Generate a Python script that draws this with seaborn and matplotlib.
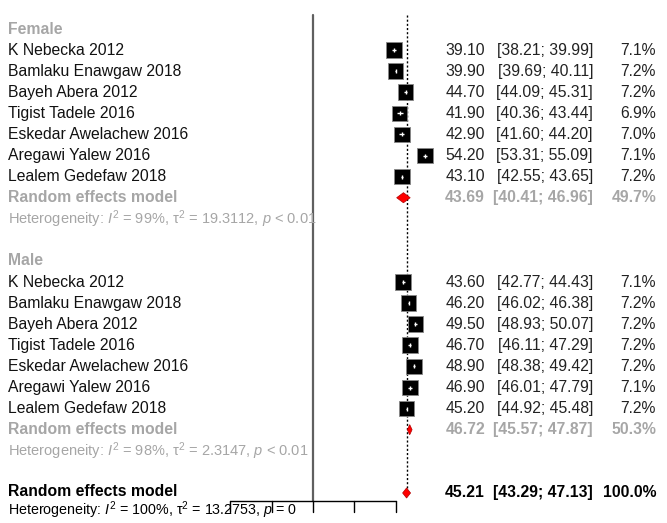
import numpy as np
import pandas as pd
import matplotlib
matplotlib.use("Agg")
import matplotlib.pyplot as plt
import matplotlib.transforms as mtransforms
import seaborn as sns

# study data
studies = ["K Nebecka 2012", "Bamlaku Enawgaw 2018", "Bayeh Abera 2012",
           "Tigist Tadele 2016", "Eskedar Awelachew 2016", "Aregawi Yalew 2016",
           "Lealem Gedefaw 2018"]
female_est = [39.10, 39.90, 44.70, 41.90, 42.90, 54.20, 43.10]
female_lo = [38.21, 39.69, 44.09, 40.36, 41.60, 53.31, 42.55]
female_hi = [39.99, 40.11, 45.31, 43.44, 44.20, 55.09, 43.65]
female_w = [7.1, 7.2, 7.2, 6.9, 7.0, 7.1, 7.2]
male_est = [43.60, 46.20, 49.50, 46.70, 48.90, 46.90, 45.20]
male_lo = [42.77, 46.02, 48.93, 46.11, 48.38, 46.01, 44.92]
male_hi = [44.43, 46.38, 50.07, 47.29, 49.42, 47.79, 45.48]
male_w = [7.1, 7.2, 7.2, 7.2, 7.2, 7.1, 7.2]

groups = ["Female", "Male"]
pooled_est = [43.69, 46.72]
pooled_lo = [40.41, 45.57]
pooled_hi = [46.96, 47.87]
pooled_w = [49.7, 50.3]
het_i2 = ["99%", "98%"]
het_tau2 = ["19.3112", "2.3147"]
het_p = ["< 0.01", "< 0.01"]

overall_est = 45.21
overall_lo = 43.29
overall_hi = 47.13
overall_w = 100.0
overall_i2 = "100%"
overall_tau2 = "13.2753"
overall_p = "= 0"

axis_ticks = [-40, -20, 0, 20, 40]

sns.set_style("white")
plt.rcParams["font.family"] = ["Liberation Sans", "DejaVu Sans"]
plt.rcParams["mathtext.fontset"] = "custom"
plt.rcParams["mathtext.rm"] = "Liberation Sans"
plt.rcParams["mathtext.it"] = "Liberation Sans:italic"

W, H = 667, 523
fig = plt.figure(figsize=(W / 100, H / 100), dpi=100)
ax = fig.add_axes([0, 0, 1, 1])

# pixel mapping: x=0 at px 313, 2.07 px per unit; row 0 at px 29, 21.09 px per row
px_per_unit = 2.07
x0_px = 313
row0_px = 29
px_per_row = 21.09
ax.set_xlim(-x0_px / px_per_unit, (W - x0_px) / px_per_unit)
ax.set_ylim((H - row0_px) / px_per_row, -row0_px / px_per_row)
ax.axis("off")

tx = mtransforms.blended_transform_factory(fig.transFigure, ax.transData)

def px(x):
    return x / W

grey = "#a6a6a6"
fs = 11.3

# build the study table with row positions
rows = []
r = 0
layout = []
for g, est, lo, hi, w in [("Female", female_est, female_lo, female_hi, female_w),
                          ("Male", male_est, male_lo, male_hi, male_w)]:
    layout.append(("header", g, r))
    r += 1
    for name, e, l, h, ww in zip(studies, est, lo, hi, w):
        rows.append(dict(group=g, study=name, est=e, lo=l, hi=h, weight=ww, row=r))
        r += 1
    layout.append(("pooled", g, r))
    r += 1
    layout.append(("het", g, r))
    r += 2
overall_row = r
df = pd.DataFrame(rows)

# reference lines
ax.plot([0, 0], [-0.66, 22.38], color="#606060", lw=1.6, zorder=1)
ax.plot([overall_est, overall_est], [-0.66, overall_row - 0.25], color="black",
        lw=1, ls=(0, (1.5, 1.5)), zorder=1)

# bottom axis
ax.plot([axis_ticks[0], axis_ticks[-1]], [22.38, 22.38], color="black", lw=1)
for t in axis_ticks:
    ax.plot([t, t], [22.38, 22.9], color="black", lw=1)

# study squares
sns.scatterplot(data=df, x="est", y="row", marker="s", size="weight",
                sizes=(0, 128), size_norm=(0, 7.2), color="black",
                edgecolor="#888888", linewidth=0.6, legend=False, ax=ax, zorder=3)
ax.hlines(df["row"], df["lo"], df["hi"], color="white", lw=1, zorder=4)
ax.plot(df["est"], df["row"], marker="|", color="white", ms=3.5, mew=1, ls="none", zorder=4)
ax.set_xlabel("")
ax.set_ylabel("")

def diamond(est, lo, hi, row, half=0.24):
    ax.fill([lo, est, hi, est], [row, row - half, row, row + half],
            color="red", ec="#b00000", lw=0.5, zorder=3)

def stats_text(row, e, l, h, w, color, weight):
    ax.text(px(485), row, f"{e:.2f}", transform=tx, ha="right", va="center",
            fontsize=fs, color=color, fontweight=weight)
    ax.text(px(593), row, f"[{l:.2f}; {h:.2f}]", transform=tx, ha="right",
            va="center", fontsize=fs, color=color, fontweight=weight)
    ax.text(px(656), row, f"{w:.1f}%", transform=tx, ha="right", va="center",
            fontsize=fs, color=color, fontweight=weight)

for _, d in df.iterrows():
    ax.text(px(8), d["row"], d["study"], transform=tx, ha="left", va="center",
            fontsize=fs, color="#111111")
    stats_text(d["row"], d["est"], d["lo"], d["hi"], d["weight"], "#222222", "normal")

for kind, g, row in layout:
    i = groups.index(g)
    if kind == "header":
        ax.text(px(8), row, g, transform=tx, ha="left", va="center",
                fontsize=fs, color=grey, fontweight="bold")
    elif kind == "pooled":
        ax.text(px(8), row, "Random effects model", transform=tx, ha="left",
                va="center", fontsize=fs, color=grey, fontweight="bold")
        diamond(pooled_est[i], pooled_lo[i], pooled_hi[i], row)
        stats_text(row, pooled_est[i], pooled_lo[i], pooled_hi[i], pooled_w[i],
                   grey, "bold")
    else:
        ax.text(px(8), row,
                f"Heterogeneity: $I^2$ = {het_i2[i]}, τ$^2$ = {het_tau2[i]}, $p$ {het_p[i]}",
                transform=tx, ha="left", va="center", fontsize=fs - 0.8, color=grey)

# overall
ax.text(px(8), overall_row - 0.05, "Random effects model", transform=tx, ha="left",
        va="center", fontsize=fs, color="black", fontweight="bold")
diamond(overall_est, overall_lo, overall_hi, overall_row)
stats_text(overall_row, overall_est, overall_lo, overall_hi, overall_w, "black", "bold")
ax.text(px(8), overall_row + 0.8,
        f"Heterogeneity: $I^2$ = {overall_i2}, τ$^2$ = {overall_tau2}, $p$ {overall_p}",
        transform=tx, ha="left", va="center", fontsize=fs - 1.0, color="black")

fig.savefig("out.png", dpi=100)
